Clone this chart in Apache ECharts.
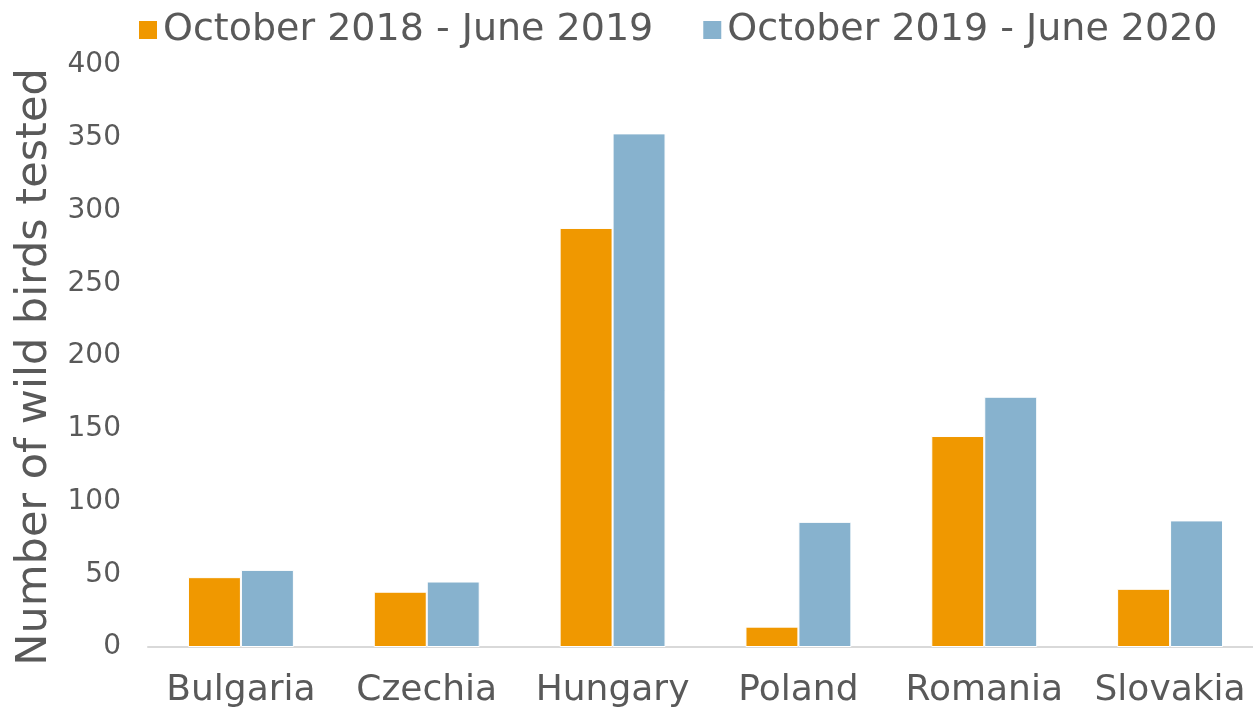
<!DOCTYPE html>
<html>
<head>
<meta charset="utf-8">
<script src="https://cdn.jsdelivr.net/npm/echarts@6/dist/echarts.min.js"></script>
<style>
  html, body { margin: 0; padding: 0; background: #fff; }
  #chart { width: 1253px; height: 717px; }
</style>
</head>
<body>
<div id="chart"></div>
<script>
var countries = ['Bulgaria', 'Czechia', 'Hungary', 'Poland', 'Romania', 'Slovakia']
var season1 = [48, 38, 288, 14, 145, 40]
var season2 = [53, 45, 353, 86, 172, 87]
var seriesNames = ['October 2018 - June 2019', 'October 2019 - June 2020']

var textColor = '#595959'
var font = 'DejaVu Sans, Verdana, sans-serif'

var chart = echarts.init(document.getElementById('chart'))
chart.setOption({
  animation: false,
  textStyle: { fontFamily: font },
  legend: {
    top: 6,
    left: 132,
    icon: 'rect',
    itemWidth: 20,
    itemHeight: 20,
    itemGap: 48,
    textStyle: { color: textColor, fontSize: 38, fontFamily: font },
    data: seriesNames
  },
  grid: {
    left: 148,
    right: -10,
    top: 65,
    bottom: 70,
    outerBoundsMode: 'none'
  },
  xAxis: {
    type: 'category',
    data: countries,
    axisLine: { lineStyle: { color: '#d9d9d9', width: 2 } },
    axisTick: { show: false },
    axisLabel: { color: textColor, fontSize: 36, margin: 26, interval: 0, hideOverlap: false, fontFamily: font }
  },
  yAxis: {
    type: 'value',
    min: 0,
    max: 400,
    interval: 50,
    name: 'Number of wild birds tested',
    nameLocation: 'middle',
    nameGap: 92,
    nameTextStyle: { color: textColor, fontSize: 43, fontFamily: font, padding: [0, 22, 0, 0] },
    axisLine: { show: false },
    axisTick: { show: false },
    splitLine: { show: false },
    axisLabel: { color: textColor, fontSize: 28, margin: 27, fontFamily: font }
  },
  series: [
    {
      name: seriesNames[0],
      type: 'bar',
      data: season1,
      barGap: '0%',
      barCategoryGap: '43%',
      itemStyle: { color: '#F09800', borderColor: '#ffffff', borderWidth: 1 }
    },
    {
      name: seriesNames[1],
      type: 'bar',
      data: season2,
      barGap: '0%',
      barCategoryGap: '43%',
      itemStyle: { color: '#87B2CE', borderColor: '#ffffff', borderWidth: 1 }
    }
  ]
})
</script>
</body>
</html>
